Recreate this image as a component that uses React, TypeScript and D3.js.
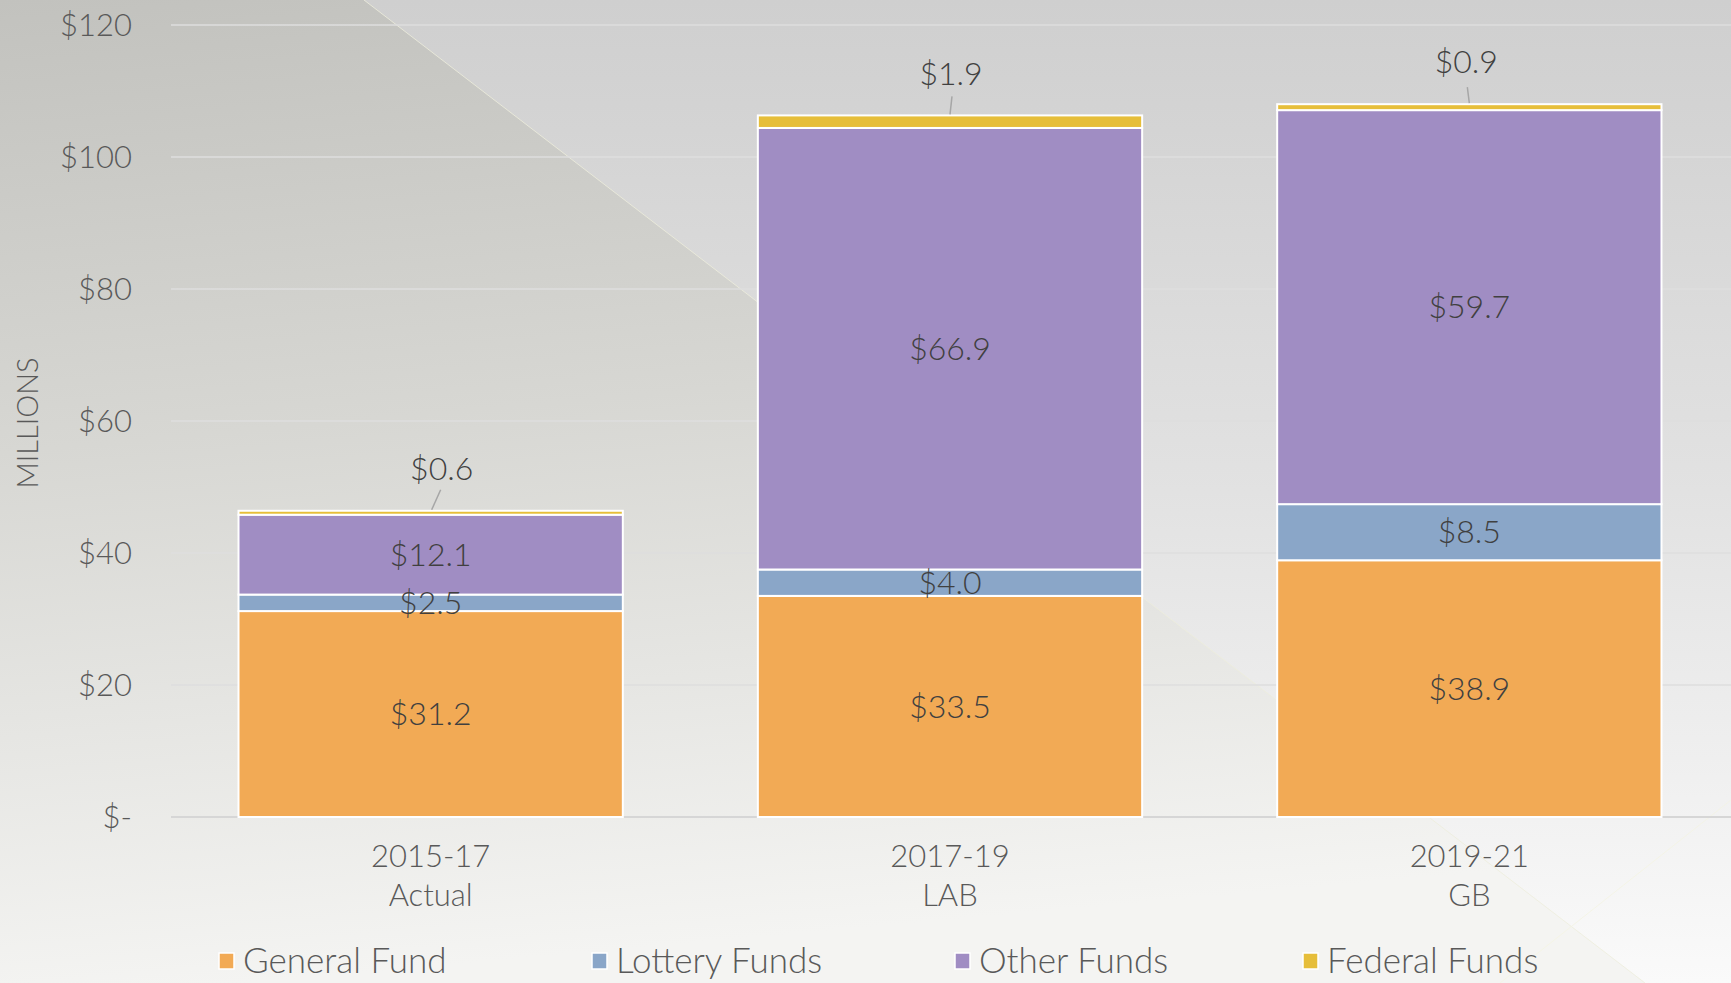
import React from "react";
import * as d3 from "d3";

const categories = ["2015-17|Actual", "2017-19|LAB", "2019-21|GB"];
const seriesNames = ["General Fund", "Lottery Funds", "Other Funds", "Federal Funds"];
const generalFund = [31.2, 33.5, 38.9];
const lotteryFunds = [2.5, 4.0, 8.5];
const otherFunds = [12.1, 66.9, 59.7];
const federalFunds = [0.6, 1.9, 0.9];
const yTicks = [0, 20, 40, 60, 80, 100, 120];
const colors = ["#F2AA55", "#8AA6C8", "#A08DC3", "#E6BE3A"];

const W = 1731;
const H = 983;
const FONT = "Lato, 'Open Sans', sans-serif";

export default function App() {
  const x = d3.scaleBand<string>().domain(categories).range([171, 1729]).paddingInner(0.26).paddingOuter(0.13);
  const y = d3.scaleLinear().domain([0, 120]).range([817, 25]);
  const rows = categories.map((c, i) => ({
    cat: c,
    g: generalFund[i],
    l: lotteryFunds[i],
    o: otherFunds[i],
    f: federalFunds[i],
  }));
  const stack = d3.stack<any>().keys(["g", "l", "o", "f"])(rows);
  const fmt = (v: number) => "$" + v.toFixed(1);
  // [label dx, leader top dx, leader bottom dx, leader length]
  const leader = [[11, 10, 1, 21], [1, 2, 0, 19], [-3, -2, 0, 17]];

  return (
    <svg width={W} height={H} style={{ position: "fixed", left: 0, top: 0 }} fontFamily={FONT} fontWeight={300}>
      <defs>
        <linearGradient id="bgL" x1="0" y1="0" x2="0.15" y2="1">
          <stop offset="0" stopColor="#c2c2be" />
          <stop offset="0.45" stopColor="#d7d7d3" />
          <stop offset="1" stopColor="#f4f4f2" />
        </linearGradient>
        <linearGradient id="bgR" x1="0" y1="0" x2="0" y2="1">
          <stop offset="0" stopColor="#cfcfcf" />
          <stop offset="0.5" stopColor="#e2e2e2" />
          <stop offset="1" stopColor="#fafafa" />
        </linearGradient>
      </defs>
      <rect x={0} y={0} width={W} height={H} fill="url(#bgR)" />
      <polygon points="0,0 364,0 1645,983 0,983" fill="url(#bgL)" />
      <line x1={364} y1={0} x2={1645} y2={983} stroke="#eeeedd" strokeWidth={1} opacity={0.8} />
      <line x1={1500} y1={983} x2={1731} y2={800} stroke="#f4f4e4" strokeWidth={1} opacity={0.8} />

      {yTicks.map((t) => (
        <line key={t} x1={171} x2={1731} y1={y(t)} y2={y(t)} stroke={t === 0 ? "#d6d6d6" : "#dedede"} strokeWidth={t === 0 ? 2 : 1.5} />
      ))}
      {yTicks.map((t) => (
        <text key={"l" + t} x={132} y={y(t)} dy="0.35em" textAnchor="end" fontSize={31} fill="#595959">
          {t === 0 ? "$-" : "$" + t}
        </text>
      ))}
      <text transform={`translate(38,423) rotate(-90)`} textAnchor="middle" fontSize={29} fill="#595959">
        MILLIONS
      </text>

      {stack.map((s, si) => (
        <g key={si}>
          {s.map((d, i) => (
            <rect
              key={i}
              x={x(categories[i])!}
              width={x.bandwidth()}
              y={y(d[1])}
              height={y(d[0]) - y(d[1])}
              fill={colors[si]}
              stroke="#ffffff"
              strokeWidth={2}
            />
          ))}
        </g>
      ))}

      {stack.slice(0, 3).map((s, si) => (
        <g key={"dl" + si}>
          {s.map((d, i) => (
            <text
              key={i}
              x={x(categories[i])! + x.bandwidth() / 2}
              y={(y(d[0]) + y(d[1])) / 2}
              dy="0.35em"
              textAnchor="middle"
              fontSize={32}
              fill="#404040"
            >
              {fmt(d[1] - d[0])}
            </text>
          ))}
        </g>
      ))}
      {stack[3].map((d, i) => {
        const cx = x(categories[i])! + x.bandwidth() / 2;
        const top = y(d[1]);
        const L = leader[i];
        return (
          <g key={"fl" + i}>
            <line x1={cx + L[1]} y1={top - L[3]} x2={cx + L[2]} y2={top - 1} stroke="#a6a6a6" strokeWidth={1.5} />
            <text x={cx + L[0]} y={top - 42} dy="0.35em" textAnchor="middle" fontSize={32} fill="#404040">
              {fmt(d[1] - d[0])}
            </text>
          </g>
        );
      })}

      {categories.map((c) => {
        const [a, b] = c.split("|");
        const cx = x(c)! + x.bandwidth() / 2;
        return (
          <text key={c} x={cx} textAnchor="middle" fontSize={31} fill="#595959">
            <tspan x={cx} y={867}>{a}</tspan>
            <tspan x={cx} y={906}>{b}</tspan>
          </text>
        );
      })}

      {seriesNames.map((n, i) => {
        const lx = [219, 592, 955, 1303][i];
        return (
          <g key={n}>
            <rect x={lx} y={953} width={15} height={16} fill={colors[i]} stroke="#ffffff" strokeWidth={1.5} />
            <text x={lx + 24} y={973} fontSize={35} fill="#595959">
              {n}
            </text>
          </g>
        );
      })}
    </svg>
  );
}
